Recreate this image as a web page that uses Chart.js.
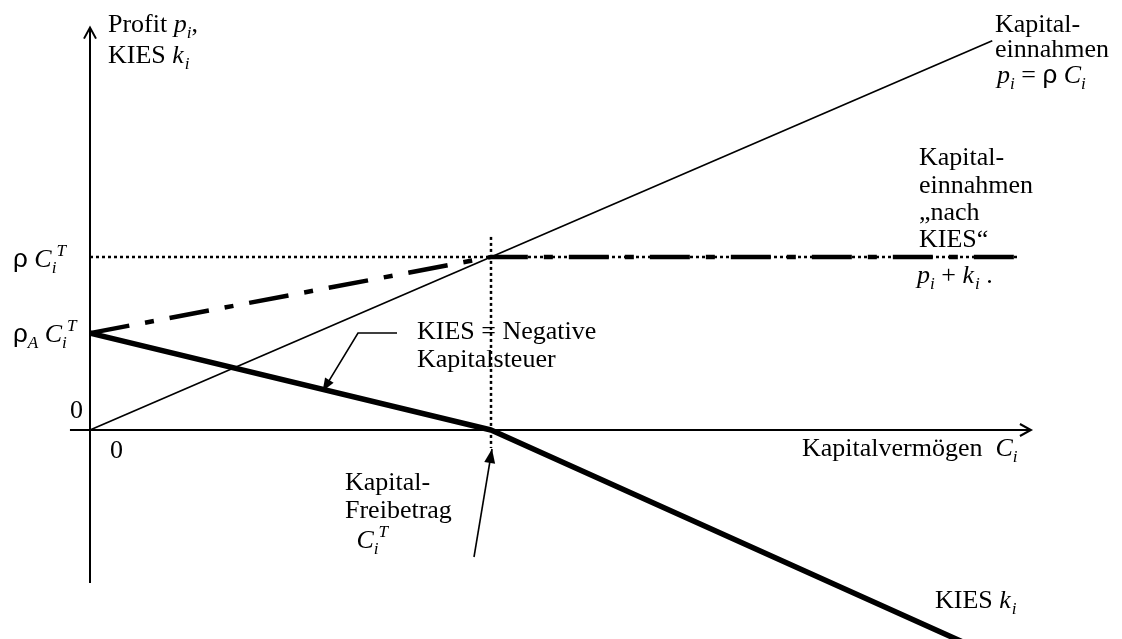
<!DOCTYPE html>
<html>
<head>
<meta charset="utf-8">
<script src="https://cdn.jsdelivr.net/npm/chart.js@4/dist/chart.umd.min.js"></script>
<style>
  html, body { margin: 0; padding: 0; background: #fff; }
  #wrap { width: 1122px; height: 639px; position: relative; }
</style>
</head>
<body>
<div id="wrap"><canvas id="c" width="1122" height="639"></canvas></div>
<script>
// ---- Data (units: capital in multiples of the allowance C_i^T, income in multiples of rho*C_i^T)
const freibetragC = 1;            // C_i^T
const rhoCT = 1;                  // rho * C_i^T
const rhoACT = 0.56;              // rho_A * C_i^T
const einnahmenX = [0, 2.25];     // Kapitaleinnahmen p_i = rho C_i
const einnahmenY = [0, 2.25];
const kiesX = [0, 1, 2.2];        // KIES k_i
const kiesY = [0.56, 0, -1.25];
const nachKiesX = [0, 1, 2.314];  // p_i + k_i
const nachKiesY = [0.56, 1, 1];
const rhoLineX = [0, 2.314];      // dotted level rho C_i^T
const freiLineY = [1.116, -0.104];// dotted vertical at C_i^T
const xAxisRange = [-0.05, 2.344];
const yAxisRange = [-0.884, 2.32];

const pts = (xs, ys) => xs.map((x, i) => ({x, y: ys[i]}));

const SERIF = "'Liberation Serif', 'Times New Roman', serif";
const SANS = "'Liberation Sans', Arial, sans-serif";
const FS = 26;

function drawRich(ctx, x, y, parts) {
  let cx = x;
  for (const p of parts) {
    const seg = typeof p === 'string' ? {t: p} : p;
    let size = FS, dy = 0;
    if (seg.sub) { size = FS * 0.66; dy = FS * 0.22; }
    if (seg.sup) { size = FS * 0.66; dy = -FS * 0.42; }
    ctx.font = (seg.i ? 'italic ' : '') + size + 'px ' + (seg.sans ? SANS : SERIF);
    ctx.fillText(seg.t, cx, y + dy);
    cx += ctx.measureText(seg.t).width + (seg.gap || 0);
  }
}

const labels = [
  {x: 108, y: 32, parts: ['Profit ', {t: 'p', i: 1}, {t: 'i', i: 1, sub: 1}, ',']},
  {x: 108, y: 63, parts: ['KIES ', {t: 'k', i: 1, gap: 1}, {t: 'i', i: 1, sub: 1}]},
  {x: 995, y: 32, parts: ['Kapital-']},
  {x: 995, y: 57, parts: ['einnahmen']},
  {x: 997, y: 83, parts: [{t: 'p', i: 1}, {t: 'i', i: 1, sub: 1}, ' = ', {t: 'ρ', sans: 1}, ' ', {t: 'C', i: 1}, {t: 'i', i: 1, sub: 1}]},
  {x: 919, y: 165, parts: ['Kapital-']},
  {x: 919, y: 193, parts: ['einnahmen']},
  {x: 919, y: 220, parts: ['„nach']},
  {x: 919, y: 247, parts: ['KIES“']},
  {x: 917, y: 283, parts: [{t: 'p', i: 1}, {t: 'i', i: 1, sub: 1}, ' + ', {t: 'k', i: 1, gap: 1}, {t: 'i', i: 1, sub: 1}, ' .']},
  {x: 13, y: 267, parts: [{t: 'ρ', sans: 1}, ' ', {t: 'C', i: 1}, {t: 'i', i: 1, sub: 1}, {t: 'T', i: 1, sup: 1}]},
  {x: 13, y: 342, parts: [{t: 'ρ', sans: 1}, {t: 'A', i: 1, sub: 1}, ' ', {t: 'C', i: 1}, {t: 'i', i: 1, sub: 1}, {t: 'T', i: 1, sup: 1}]},
  {x: 70, y: 418, parts: ['0']},
  {x: 110, y: 458, parts: ['0']},
  {x: 417, y: 339, parts: ['KIES = Negative']},
  {x: 417, y: 367, parts: ['Kapitalsteuer']},
  {x: 345, y: 490, parts: ['Kapital-']},
  {x: 345, y: 518, parts: ['Freibetrag']},
  {x: 350, y: 548, parts: [' ', {t: 'C', i: 1}, {t: 'i', i: 1, sub: 1}, {t: 'T', i: 1, sup: 1}]},
  {x: 802, y: 456, parts: ['Kapitalvermögen  ', {t: 'C', i: 1}, {t: 'i', i: 1, sub: 1}]},
  {x: 935, y: 608, parts: ['KIES ', {t: 'k', i: 1, gap: 1}, {t: 'i', i: 1, sub: 1}]},
];

function arrowHead(ctx, x0, y0, x1, y1, len, half, filled) {
  const a = Math.atan2(y1 - y0, x1 - x0);
  const bx = x1 - len * Math.cos(a), by = y1 - len * Math.sin(a);
  const px = -Math.sin(a) * half, py = Math.cos(a) * half;
  ctx.beginPath();
  ctx.moveTo(bx + px, by + py);
  ctx.lineTo(x1, y1);
  ctx.lineTo(bx - px, by - py);
  if (filled) { ctx.closePath(); ctx.fill(); } else { ctx.stroke(); }
}

const decor = {
  id: 'decor',
  afterDatasetsDraw(chart) {
    const ctx = chart.ctx, xs = chart.scales.x, ys = chart.scales.y;
    const X = v => xs.getPixelForValue(v), Y = v => ys.getPixelForValue(v);
    ctx.save();
    ctx.strokeStyle = '#000'; ctx.fillStyle = '#000'; ctx.lineWidth = 2; ctx.setLineDash([]);
    // axis arrows
    arrowHead(ctx, X(0), Y(0), X(0), Y(yAxisRange[1]) - 1, 11, 6, false);
    arrowHead(ctx, X(0), Y(0), X(xAxisRange[1]) + 1, Y(0), 11, 6, false);
    // leader: KIES = Negative Kapitalsteuer
    const tx = 0.58, ty = rhoACT * (1 - tx / freibetragC);
    const tipX = X(tx), tipY = Y(ty) + 2;
    ctx.lineWidth = 1.6;
    ctx.beginPath();
    ctx.moveTo(397, 333); ctx.lineTo(358, 333); ctx.lineTo(tipX, tipY);
    ctx.stroke();
    arrowHead(ctx, 358, 333, tipX, tipY, 13, 5, true);
    // leader: Kapital-Freibetrag
    const fx = X(freibetragC) + 1, fy = Y(0) + 19;
    ctx.beginPath(); ctx.moveTo(474, 557); ctx.lineTo(fx, fy); ctx.stroke();
    arrowHead(ctx, 474, 557, fx, fy, 14, 5.5, true);
    // texts
    ctx.textBaseline = 'alphabetic';
    for (const l of labels) drawRich(ctx, l.x, l.y, l.parts);
    ctx.restore();
  }
};

const common = {pointRadius: 0, borderColor: '#000', fill: false, tension: 0, borderCapStyle: 'butt'};

new Chart(document.getElementById('c'), {
  type: 'scatter',
  data: {
    datasets: [
      {...common, label: 'y-Achse', data: pts([0, 0], yAxisRange), showLine: true, borderWidth: 2},
      {...common, label: 'x-Achse', data: pts(xAxisRange, [0, 0]), showLine: true, borderWidth: 2},
      {...common, label: 'ρ C_i^T', data: pts(rhoLineX, [rhoCT, rhoCT]), showLine: true, borderWidth: 2.5, borderDash: [3, 3]},
      {...common, label: 'C_i^T', data: pts([freibetragC, freibetragC], freiLineY), showLine: true, borderWidth: 2.5, borderDash: [3, 3]},
      {...common, label: 'Kapitaleinnahmen', data: pts(einnahmenX, einnahmenY), showLine: true, borderWidth: 1.7},
      {...common, label: 'KIES', data: pts(kiesX, kiesY), showLine: true, borderWidth: 5.5, borderJoinStyle: 'round'},
      {...common, label: 'nach KIES', data: pts(nachKiesX, nachKiesY), showLine: true, borderWidth: 4.5, borderDash: [40, 16, 9, 16]},
    ]
  },
  options: {
    responsive: false,
    animation: false,
    events: [],
    layout: {padding: 0},
    plugins: {legend: {display: false}, tooltip: {enabled: false}},
    scales: {
      x: {type: 'linear', display: false, min: -90 / 401, max: 1032 / 401},
      y: {type: 'linear', display: false, min: -209 / 173, max: 430 / 173}
    }
  },
  plugins: [decor]
});
</script>
</body>
</html>
